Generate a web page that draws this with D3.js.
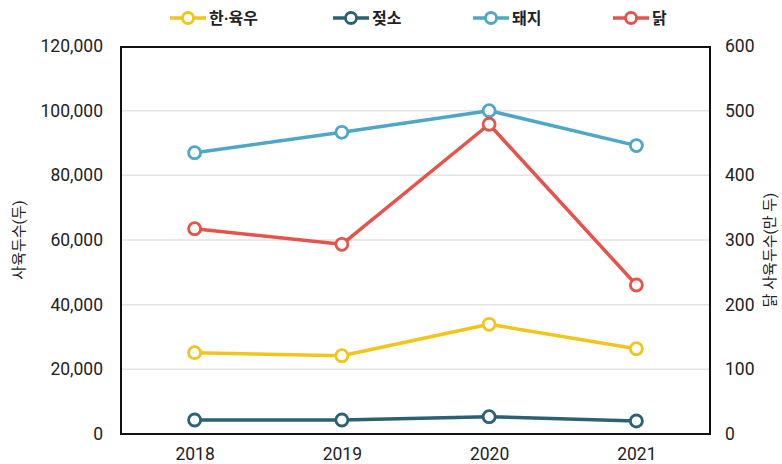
<!DOCTYPE html>
<html><head><meta charset="utf-8">
<script src="https://cdn.jsdelivr.net/npm/d3@7"></script>
<style>body{margin:0;background:#fff;}svg{display:block;font-family:Roboto,"Noto Sans CJK KR",sans-serif;}</style>
</head><body>
<script>
const years = ["2018","2019","2020","2021"];
const hanwoo = [25150, 24220, 33920, 26390];
const dairy = [4330, 4330, 5350, 4020];
const pig = [87000, 93300, 100000, 89200];
const chicken = [317.5, 293.3, 479, 230.4];
const leftTicks = [0,20000,40000,60000,80000,100000,120000];
const rightTicks = [0,100,200,300,400,500,600];
const seriesNames = ["한·육우","젖소","돼지","닭"];
const colors = ["#f2c519","#2b6173","#4ea7c6","#e5534b"];

const W=782,H=464, L=121, R=710, T=46, B=434;
const svg=d3.select("body").append("svg").attr("width",W).attr("height",H);
const x=d3.scalePoint().domain(years).range([L,R]).padding(0.5);
const yL=d3.scaleLinear().domain([0,120000]).range([B,T]);
const yR=d3.scaleLinear().domain([0,600]).range([B,T]);

// grid
svg.append("g").selectAll("line").data(leftTicks.slice(1,-1)).join("line")
 .attr("x1",L).attr("x2",R).attr("y1",d=>yL(d)).attr("y2",d=>yL(d))
 .attr("stroke","#e3e3e3").attr("stroke-width",1.5);

// axes
const fmt=d3.format(",");
const ga=svg.append("g").attr("transform",`translate(${L},0)`)
 .call(d3.axisLeft(yL).tickValues(leftTicks).tickFormat(fmt).tickSize(0).tickPadding(18));
const gr=svg.append("g").attr("transform",`translate(${R},0)`)
 .call(d3.axisRight(yR).tickValues(rightTicks).tickSize(0).tickPadding(15));
const gx=svg.append("g").attr("transform",`translate(0,${B})`)
 .call(d3.axisBottom(x).tickSize(0).tickPadding(14));
[ga,gr,gx].forEach(g=>{g.select(".domain").remove();g.selectAll("text").attr("font-size",17.5).attr("fill","#222").attr("font-family","Roboto,sans-serif");});

// frame
svg.append("rect").attr("x",L).attr("y",T+1).attr("width",R-L).attr("height",B-T-1)
 .attr("fill","none").attr("stroke","#111").attr("stroke-width",2);

// titles
svg.append("text").attr("transform",`translate(24,${(T+B)/2}) rotate(-90)`).attr("text-anchor","middle")
 .attr("font-size",15).attr("fill","#222").text("사육두수(두)");
svg.append("text").attr("transform",`translate(775,${(T+B)/2+10}) rotate(-90)`).attr("text-anchor","middle")
 .attr("font-size",15).attr("fill","#222").text("닭 사육두수(만 두)");

// series
const data=[{v:hanwoo,s:yL},{v:dairy,s:yL},{v:pig,s:yL},{v:chicken,s:yR}];
const order=[0,1,2,3];
order.forEach(i=>{
  const d=data[i];
  const pts=years.map((yr,j)=>[x(yr),d.s(d.v[j])]);
  svg.append("path").attr("d",d3.line()(pts)).attr("fill","none").attr("stroke",colors[i]).attr("stroke-width",3.5).attr("stroke-linejoin","round");
});
order.forEach(i=>{
  const d=data[i];
  svg.append("g").selectAll("circle").data(years).join("circle")
   .attr("cx",yr=>x(yr)).attr("cy",(yr,j)=>d.s(d.v[j])).attr("r",6)
   .attr("fill","#fff").attr("stroke",colors[i]).attr("stroke-width",2.8);
});

// legend
const legX=[170,333,473,613];
seriesNames.forEach((n,i)=>{
  const g=svg.append("g").attr("transform",`translate(${legX[i]},18)`);
  g.append("line").attr("x1",0).attr("x2",36).attr("stroke",colors[i]).attr("stroke-width",3.5);
  g.append("circle").attr("cx",18).attr("r",5.5).attr("fill","#fff").attr("stroke",colors[i]).attr("stroke-width",2.8);
  g.append("text").attr("x",39).attr("y",6).attr("font-size",16).attr("font-weight","bold").attr("fill","#222").text(n);
});
</script>
</body></html>
